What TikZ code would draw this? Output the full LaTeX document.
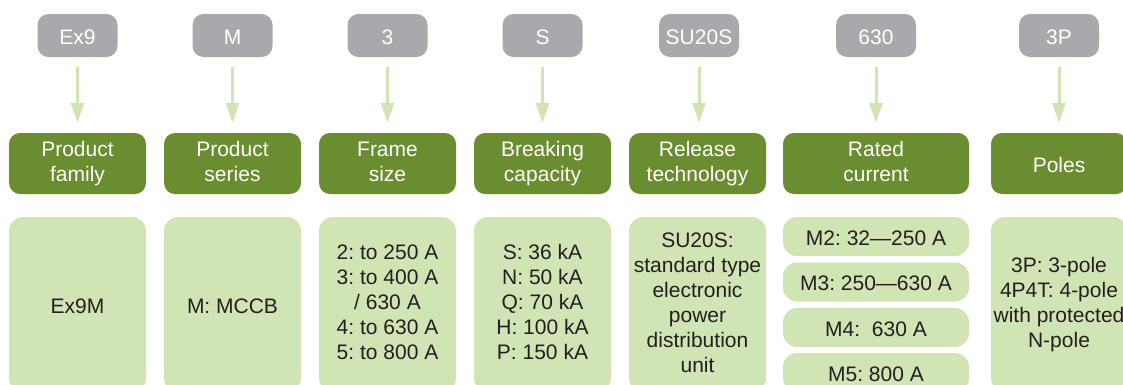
\documentclass[tikz,border=0pt]{standalone}
\usepackage{fontspec}
\setmainfont{Liberation Sans}
\frenchspacing
\usetikzlibrary{arrows.meta}
\definecolor{codegray}{HTML}{A7A9AC}
\definecolor{fielddark}{HTML}{6A8D2F}
\definecolor{desclight}{HTML}{D1E4B3}
\definecolor{desctext}{HTML}{231F20}

\begin{document}
\begin{tikzpicture}[x=1pt,y=-1pt,
        every node/.style={font=\fontsize{21}{25}\selectfont, align=center, inner sep=0pt,
            execute at begin node=\rule{0pt}{21.5pt}, execute at end node=\vphantom{y}},
        codebox/.style={fill=codegray, text=white, rounded corners=11pt, minimum width=80pt, minimum height=43pt},
        fieldbox/.style={fill=fielddark, text=white, rounded corners=11pt, minimum width=137pt, minimum height=61pt},
        descbox/.style={fill=desclight, text=desctext, rounded corners=14pt, minimum width=137pt, minimum height=175pt},
        ratebox/.style={fill=desclight, text=desctext, rounded corners=14pt, minimum width=186pt, minimum height=39pt},
        codearrow/.style={draw=desclight, line width=3pt, shorten <=10pt, shorten >=10pt, -{Triangle[length=20pt,width=13pt]}}]
        \clip (0,0) rectangle (1123,384);
        % codes
        \node[codebox] (code1) at (77.5,35.5) {Ex9};
        \node[codebox] (code2) at (232.5,35.5) {M};
        \node[codebox] (code3) at (387.5,35.5) {3};
        \node[codebox] (code4) at (542.5,35.5) {S};
        \node[codebox] (code5) at (699,35.5) {SU20S};
        \node[codebox] (code6) at (876,35.5) {630};
        \node[codebox] (code7) at (1059,35.5) {3P};
        % fields
        \node[fieldbox] (field1) at (77.5,163.5) {Product\\family};
        \node[fieldbox] (field2) at (232.5,163.5) {Product\\series};
        \node[fieldbox] (field3) at (387.5,163.5) {Frame\\size};
        \node[fieldbox] (field4) at (542.5,163.5) {Breaking\\capacity};
        \node[fieldbox] (field5) at (697.5,163.5) {Release\\technology};
        \node[fieldbox, minimum width=186pt] (field6) at (876,163.5) {Rated\\current};
        \node[fieldbox, minimum width=136pt] (field7) at (1059,163.5) {Poles};
        % arrows
        \draw[codearrow] (code1) -- (code1 |- field1.north);
        \draw[codearrow] (code2) -- (code2 |- field2.north);
        \draw[codearrow] (code3) -- (code3 |- field3.north);
        \draw[codearrow] (code4) -- (code4 |- field4.north);
        \draw[codearrow] (code5) -- (code5 |- field5.north);
        \draw[codearrow] (code6) -- (code6 |- field6.north);
        \draw[codearrow] (code7) -- (code7 |- field7.north);
        % descriptions
        \node[descbox] (desc1) at (77.5,304.5) {Ex9M};
        \node[descbox] (desc2) at (232.5,304.5) {M: MCCB};
        \node[descbox] (desc3) at (387.5,304.5) {2: to 250 A\\3: to 400 A\\/ 630 A\\4: to 630 A\\5: to 800 A};
        \node[descbox] (desc4) at (542.5,304.5) {S: 36 kA\\N: 50 kA\\Q: 70 kA\\H: 100 kA\\P: 150 kA};
        \node[descbox] (desc5) at (697.5,304.5) {SU20S:\\standard type\\electronic\\power\\distribution\\unit};
        \node[ratebox] (rate1) at (876,236.5) {M2: 32—250 A};
        \node[ratebox] (rate2) at (876,282) {M3: 250—630 A};
        \node[ratebox] (rate3) at (876,327.5) {M4:\ \ 630 A};
        \node[ratebox] (rate4) at (876,372.5) {M5: 800 A};
        \node[descbox, minimum width=136pt] (desc7) at (1059,304.5) {3P: 3-pole\\4P4T: 4-pole\\with protected\\N-pole};
\end{tikzpicture}
\end{document}
